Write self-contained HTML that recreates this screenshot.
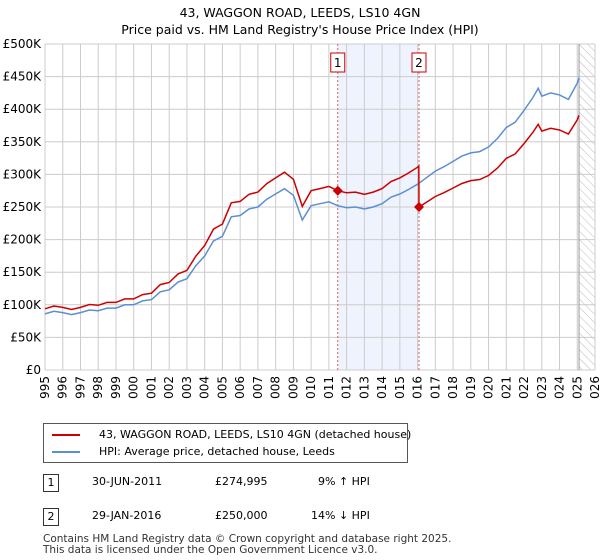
<!DOCTYPE html>
<html><head><meta charset="utf-8"><style>
body{margin:0;background:#fff;font-family:"DejaVu Sans","Liberation Sans",sans-serif;}
#wrap{position:relative;width:600px;height:560px;overflow:hidden;}
.t{position:absolute;font-size:11px;color:#000;white-space:nowrap;}
svg text{font-family:"DejaVu Sans","Liberation Sans",sans-serif;}
</style></head><body><div id="wrap">
<svg id="chart" width="600" height="400" style="position:absolute;left:0;top:0">
<defs><pattern id="hatch" width="6" height="6" patternUnits="userSpaceOnUse" patternTransform="rotate(-45)"><line x1="0" y1="0" x2="0" y2="6" stroke="#bbb" stroke-width="1"/></pattern></defs>
<text x="300" y="17" text-anchor="middle" font-size="12.5">43, WAGGON ROAD, LEEDS, LS10 4GN</text>
<text x="300" y="34" text-anchor="middle" font-size="12.5">Price paid vs. HM Land Registry's House Price Index (HPI)</text>
<g id="g"></g>
</svg>
<div style="position:absolute;left:43px;top:423px;width:363px;height:38px;border:1px solid #555;">
<div style="position:absolute;left:8px;top:10px;width:28px;height:2px;background:#cc0000"></div>
<div class="t" style="left:55px;top:4px">43, WAGGON ROAD, LEEDS, LS10 4GN (detached house)</div>
<div style="position:absolute;left:8px;top:27px;width:28px;height:2px;background:#5b8fd4"></div>
<div class="t" style="left:55px;top:21px">HPI: Average price, detached house, Leeds</div>
</div>
<div class="t" style="left:43px;top:474px;width:14px;height:16px;border:1px solid #333;text-align:center;line-height:16px">1</div>
<div class="t" style="left:92px;top:475px">30-JUN-2011</div>
<div class="t" style="left:215px;top:475px">£274,995</div>
<div class="t" style="left:318px;top:475px">9% ↑ HPI</div>
<div class="t" style="left:43px;top:508px;width:14px;height:16px;border:1px solid #333;text-align:center;line-height:16px">2</div>
<div class="t" style="left:92px;top:509px">29-JAN-2016</div>
<div class="t" style="left:215px;top:509px">£250,000</div>
<div class="t" style="left:311px;top:509px">14% ↓ HPI</div>
<div class="t" style="left:43px;top:534px;font-size:10.5px;line-height:11px;color:#333">Contains HM Land Registry data © Crown copyright and database right 2025.<br>This data is licensed under the Open Government Licence v3.0.</div>
</div>
<script>
const hpiDates=[1995,1995.5,1996,1996.5,1997,1997.5,1998,1998.5,1999,1999.5,2000,2000.5,2001,2001.5,2002,2002.5,2003,2003.5,2004,2004.5,2005,2005.5,2006,2006.5,2007,2007.5,2008,2008.5,2009,2009.5,2010,2010.5,2011,2011.5,2012,2012.5,2013,2013.5,2014,2014.5,2015,2015.5,2016,2016.5,2017,2017.5,2018,2018.5,2019,2019.5,2020,2020.5,2021,2021.5,2022,2022.5,2022.8,2023,2023.5,2024,2024.5,2025,2025.1];
const hpiValues=[86,90,88,85,88,92,91,95,95,100,100,106,108,120,123,135,140,160,175,198,205,235,237,247,250,262,270,278,268,230,252,255,258,252,249,250,247,250,255,265,270,277,285,295,305,312,320,328,333,335,342,355,372,380,398,418,432,420,425,422,415,440,448];
const saleDates=[2011.5,2016.08];
const salePrices=[274995,250000];
const yTicks=[0,50,100,150,200,250,300,350,400,450,500];
const yTickLabels=["£0","£50K","£100K","£150K","£200K","£250K","£300K","£350K","£400K","£450K","£500K"];
const xYears=[1995,1996,1997,1998,1999,2000,2001,2002,2003,2004,2005,2006,2007,2008,2009,2010,2011,2012,2013,2014,2015,2016,2017,2018,2019,2020,2021,2022,2023,2024,2025,2026];
const X0=45,X1=595,Y0=370,Y1=44;
const xs=d=>X0+(d-1995)/31*(X1-X0);
const ys=v=>Y0-v/500*(Y0-Y1);
const g=document.getElementById('g');const NS="http://www.w3.org/2000/svg";
function mk(t,a,p){const e=document.createElementNS(NS,t);for(const k in a)e.setAttribute(k,a[k]);(p||g).appendChild(e);return e;}
function hpiAt(d){for(let i=1;i<hpiDates.length;i++){if(d<=hpiDates[i]){const f=(d-hpiDates[i-1])/(hpiDates[i]-hpiDates[i-1]);return hpiValues[i-1]+f*(hpiValues[i]-hpiValues[i-1]);}}return hpiValues[hpiValues.length-1];}
let r=mk('rect',{x:xs(saleDates[0]),y:Y1,width:xs(saleDates[1])-xs(saleDates[0]),height:Y0-Y1,fill:'#eef3fd'});


const endD=hpiDates[hpiDates.length-1];
let h=mk('rect',{x:xs(endD),y:Y1,width:X1-xs(endD),height:Y0-Y1,fill:'url(#hatch)'});


xYears.forEach(y=>{let l=mk('line',{x1:xs(y),x2:xs(y),y1:Y1,y2:Y0,stroke:'#ccc'});


let t=mk('text',{x:0,y:0,'font-size':12,'text-anchor':'end',transform:`translate(${xs(y)+4},${Y0+6}) rotate(-90)`});t.textContent=y;

});
yTicks.forEach((v,i)=>{let l=mk('line',{x1:X0,x2:X1,y1:ys(v),y2:ys(v),stroke:'#ccc'});


let t=mk('text',{x:X0-4,y:ys(v)+4,'font-size':12,'text-anchor':'end'});t.textContent=yTickLabels[i];

});
let el=mk('line',{x1:xs(endD),x2:xs(endD),y1:Y1,y2:Y0,stroke:'#999'});


saleDates.forEach((d,i)=>{let l=mk('line',{x1:xs(d),x2:xs(d),y1:Y1,y2:Y0,stroke:'#e06060','stroke-dasharray':'2,2'});


let b=mk('rect',{x:xs(d)-7,y:53,width:14,height:19,fill:'#fff',stroke:'#c00'});


let t=mk('text',{x:xs(d),y:67,'font-size':12,'text-anchor':'middle'});t.textContent=i+1;

});
let p=hpiDates.map((d,i)=>(i?'L':'M')+xs(d).toFixed(1)+','+ys(hpiValues[i]).toFixed(1)).join('');
let hl=mk('path',{d:p,fill:'none',stroke:'#5b8fd4','stroke-width':1.5});


const k1=salePrices[0]/1000/hpiAt(saleDates[0]),k2=salePrices[1]/1000/hpiAt(saleDates[1]);
let pts=[];hpiDates.forEach((d,i)=>{if(d<saleDates[1])pts.push([d,hpiValues[i]*k1]);});
pts.push([saleDates[1]-0.01,hpiAt(saleDates[1])*k1]);pts.push([saleDates[1],salePrices[1]/1000]);
hpiDates.forEach((d,i)=>{if(d>saleDates[1])pts.push([d,hpiValues[i]*k2]);});
let rp=pts.map((q,i)=>(i?'L':'M')+xs(q[0]).toFixed(1)+','+ys(q[1]).toFixed(1)).join('');
let rl=mk('path',{d:rp,fill:'none',stroke:'#cc0000','stroke-width':1.5});


saleDates.forEach((d,i)=>{const cx=xs(d),cy=ys(salePrices[i]/1000);
let m=mk('path',{d:`M${cx},${cy-5}L${cx+5},${cy}L${cx},${cy+5}L${cx-5},${cy}Z`,fill:'#cc0000'});

});
</script>
</body></html>
